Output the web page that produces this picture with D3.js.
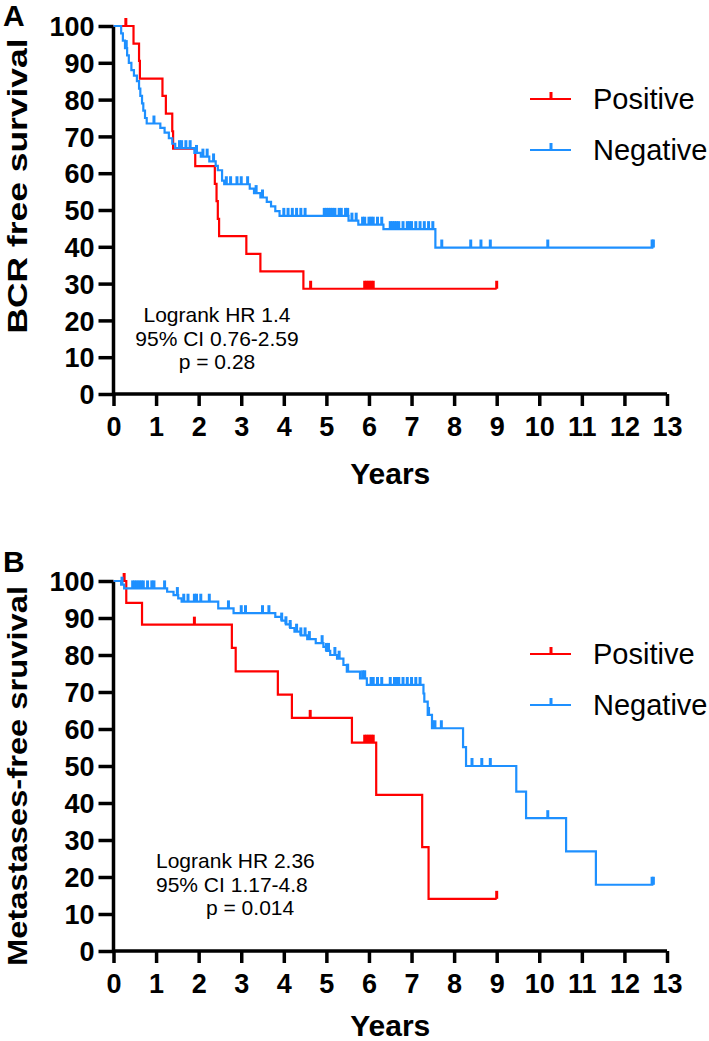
<!DOCTYPE html>
<html>
<head>
<meta charset="utf-8">
<script src="https://cdn.jsdelivr.net/npm/d3@7"></script>
<style>
  body { margin: 0; background: #fff; }
  text { font-family: "Liberation Sans", Arial, sans-serif; }
</style>
</head>
<body>
<div id="chart-area"></div>
<script>
// ---- data ----
const yearTicks = d3.range(0, 14)
const survTicks = d3.range(0, 101, 10)
const groups = ["Positive", "Negative"]

// Panel A: BCR free survival (event time, survival after event)
const aPosT = [0.47, 0.60, 0.62, 1.15, 1.23, 1.38, 1.40, 1.92, 2.38, 2.42, 2.45, 2.48, 3.12, 3.45, 4.46]
const aPosS = [95.2, 90.5, 85.7, 81.0, 76.2, 71.4, 66.7, 61.9, 57.1, 52.4, 47.6, 42.9, 38.1, 33.3, 28.6]
const aPosCens = [0.29, 4.63, 5.9, 5.95, 6.0, 6.05, 6.1, 9.0]

const aNegT = [0.18, 0.22, 0.27, 0.32, 0.36, 0.42, 0.48, 0.55, 0.60, 0.63, 0.67, 0.70, 0.74, 0.78, 1.10, 1.20, 1.30, 1.38, 1.45, 1.90, 2.05, 2.25, 2.40, 2.45, 2.55, 2.60, 3.20, 3.30, 3.45, 3.60, 3.70, 3.80, 3.90, 5.52, 5.75, 6.34, 7.56]
const aNegS = [98, 96, 94, 92, 90, 88, 86.5, 85, 83, 81, 79, 77, 75, 73.5, 72.3, 71, 69.5, 68, 66.8, 65.5, 64.5, 63.2, 62, 60.8, 58, 57, 55.8, 54.6, 53.4, 52.2, 51, 49.7, 48.4, 47.1, 46, 44.8, 39.8]
const aNegCens = [0.3, 0.95, 1.55, 1.6, 1.7, 1.8, 1.95, 2.1, 2.2, 2.35, 2.65, 2.75, 2.9, 3.0, 3.15, 3.35, 3.5,
  4.0, 4.1, 4.2, 4.3, 4.4, 4.5, 4.95, 5.0, 5.05, 5.1, 5.15, 5.2, 5.3, 5.35, 5.45, 5.5, 5.6, 5.7, 5.85, 5.9,
  6.0, 6.05, 6.1, 6.2, 6.3, 6.5, 6.55, 6.6, 6.65, 6.7, 6.8, 6.9, 6.95, 7.0, 7.1, 7.2, 7.3, 7.4, 7.5,
  7.71, 8.39, 8.63, 8.85, 10.2, 12.65, 12.68]

// Panel B: Metastases-free survival
const bPosT = [0.30, 0.67, 2.78, 2.87, 3.86, 4.19, 5.60, 6.17, 7.25, 7.40]
const bPosS = [94.1, 88.2, 81.9, 75.6, 69.3, 63.0, 56.3, 42.2, 28.1, 14.1]
const bPosCens = [0.25, 1.9, 4.62, 5.9, 5.95, 6.0, 6.05, 6.1, 9.0]

const bNegT = [0.18, 0.25, 1.26, 1.41, 1.52, 1.60, 2.46, 2.82, 3.80, 3.95, 4.05, 4.15, 4.25, 4.40, 4.55, 4.75, 4.93, 5.00, 5.09, 5.25, 5.40, 5.48, 5.79, 5.95, 7.28, 7.30, 7.38, 7.48, 8.21, 8.28, 9.46, 9.69, 10.63, 11.33]
const bNegS = [99, 98, 97.1, 96.2, 95.3, 94.4, 92.6, 91.3, 90.3, 89.3, 88.3, 87.3, 86.3, 85.3, 84.3, 83.2, 82.2, 81.1, 80.0, 79.0, 77.3, 75.5, 73.7, 71.9, 69.6, 67.4, 63.8, 60.2, 55.1, 50.0, 43.1, 35.9, 26.9, 17.9]
const bNegCens = [0.2, 0.45, 0.5, 0.55, 0.6, 0.65, 0.7, 0.8, 0.9, 0.95, 1.2, 1.5, 1.65, 1.75, 1.9, 1.95, 2.05, 2.25,
  2.7, 3.0, 3.1, 3.5, 3.65, 3.95, 4.05, 4.15, 4.3, 4.4, 4.5, 4.6, 4.9, 5.0, 5.05, 5.2, 5.3, 5.5, 5.85, 5.9,
  6.05, 6.1, 6.2, 6.3, 6.5, 6.6, 6.65, 6.7, 6.8, 6.9, 7.0, 7.1, 7.2, 7.4, 7.5, 7.55, 7.7, 8.42, 8.65, 8.85,
  10.2, 12.65, 12.68]

const statsA = ["Logrank HR 1.4", "95% CI 0.76-2.59", "p = 0.28"]
const statsB = ["Logrank HR 2.36", "95% CI 1.17-4.8", "p = 0.014"]

const RED = "#ff0000"
const BLUE = "#1e90ff"

// ---- layout ----
const W = 709, H = 1041
const svg = d3.select("#chart-area").append("svg")
  .attr("width", W)
  .attr("height", H)

const panels = [
  { letter: "A", letterY: 26, top: 26, bottom: 394, ylab: "BCR free survival", ylabLen: 295, ylabMid: 186,
    series: [[aPosT, aPosS, aPosCens, RED], [aNegT, aNegS, aNegCens, BLUE]],
    legendY: 99, stats: statsA, statsAnchor: "middle", statsX: [217, 217, 217], statsY: 322, yearsY: 484 },
  { letter: "B", letterY: 572, top: 581, bottom: 951, ylab: "Metastases-free sruvival", ylabLen: 380, ylabMid: 776,
    series: [[bPosT, bPosS, bPosCens, RED], [bNegT, bNegS, bNegCens, BLUE]],
    legendY: 654, stats: statsB, statsAnchor: "start", statsX: [156, 156, 206], statsY: 868, yearsY: 1036 }
]

const x = d3.scaleLinear().domain([0, 13]).range([113.5, 667])

const survAt = (T, S, t) => {
  let s = 100
  T.forEach((tt, i) => { if (tt <= t) s = S[i] })
  return s
}

panels.forEach(p => {
  const y = d3.scaleLinear().domain([0, 100]).range([p.bottom, p.top])
  const g = svg.append("g")

  // axes
  const xAxis = g.append("g")
    .attr("transform", `translate(0,${p.bottom})`)
    .call(d3.axisBottom(x).tickValues(yearTicks).tickSize(12).tickPadding(6).tickFormat(d3.format("d")))
  const yAxis = g.append("g")
    .attr("transform", `translate(${x(0)},0)`)
    .call(d3.axisLeft(y).tickValues(survTicks).tickSize(15).tickPadding(4))

  ;[xAxis, yAxis].forEach(a => {
    a.select(".domain").attr("stroke", "#000").attr("stroke-width", 3.5)
    a.selectAll(".tick line").attr("stroke", "#000").attr("stroke-width", 3.5)
    a.selectAll(".tick text")
      .attr("fill", "#000")
      .attr("font-size", 27)
      .attr("font-weight", "bold")
  })
  yAxis.select(".domain").attr("d", `M0,${p.top}V${p.bottom}`)
  xAxis.select(".domain").attr("d", `M${x(0)},0H${x(13)}`)
  yAxis.selectAll(".tick text").attr("dy", "0.36em")
  xAxis.selectAll(".tick text").attr("dy", "0.88em")

  // curves
  p.series.forEach(([T, S, C, col]) => {
    const end = d3.max(C)
    const pts = [[0, 100]].concat(T.map((t, i) => [t, S[i]]), [[end, S[S.length - 1]]])
    g.append("path")
      .datum(pts)
      .attr("fill", "none")
      .attr("stroke", col)
      .attr("stroke-width", 2.2)
      .attr("d", d3.line().x(d => x(d[0])).y(d => y(d[1])).curve(d3.curveStepAfter))

    g.selectAll(null)
      .data(C)
      .join("line")
      .attr("x1", d => x(d)).attr("x2", d => x(d))
      .attr("y1", d => y(survAt(T, S, d)))
      .attr("y2", d => y(survAt(T, S, d)) - 8)
      .attr("stroke", col)
      .attr("stroke-width", 3)
  })

  // legend
  groups.forEach((name, i) => {
    const ly = p.legendY + i * 51
    const col = i === 0 ? RED : BLUE
    g.append("line").attr("x1", 530).attr("x2", 571).attr("y1", ly).attr("y2", ly)
      .attr("stroke", col).attr("stroke-width", 2.2)
    g.append("line").attr("x1", 551).attr("x2", 551).attr("y1", ly).attr("y2", ly - 7)
      .attr("stroke", col).attr("stroke-width", 3)
    g.append("text").attr("x", 593).attr("y", ly + 10)
      .attr("font-size", 29).text(name)
  })

  // stats text
  p.stats.forEach((s, i) => {
    g.append("text")
      .attr("x", p.statsX[i])
      .attr("y", p.statsY + i * 23.5)
      .attr("text-anchor", p.statsAnchor)
      .attr("font-size", 21)
      .text(s)
  })

  // titles
  g.append("text")
    .attr("transform", `translate(27,${p.ylabMid}) rotate(-90)`)
    .attr("text-anchor", "middle")
    .attr("font-size", 28)
    .attr("font-weight", "bold")
    .attr("textLength", p.ylabLen)
    .attr("lengthAdjust", "spacingAndGlyphs")
    .text(p.ylab)

  g.append("text")
    .attr("x", (x(0) + x(13)) / 2)
    .attr("y", p.yearsY)
    .attr("text-anchor", "middle")
    .attr("font-size", 30)
    .attr("font-weight", "bold")
    .text("Years")

  g.append("text")
    .attr("x", 3)
    .attr("y", p.letterY)
    .attr("font-size", 30)
    .attr("font-weight", "bold")
    .text(p.letter)
})
</script>
</body>
</html>
